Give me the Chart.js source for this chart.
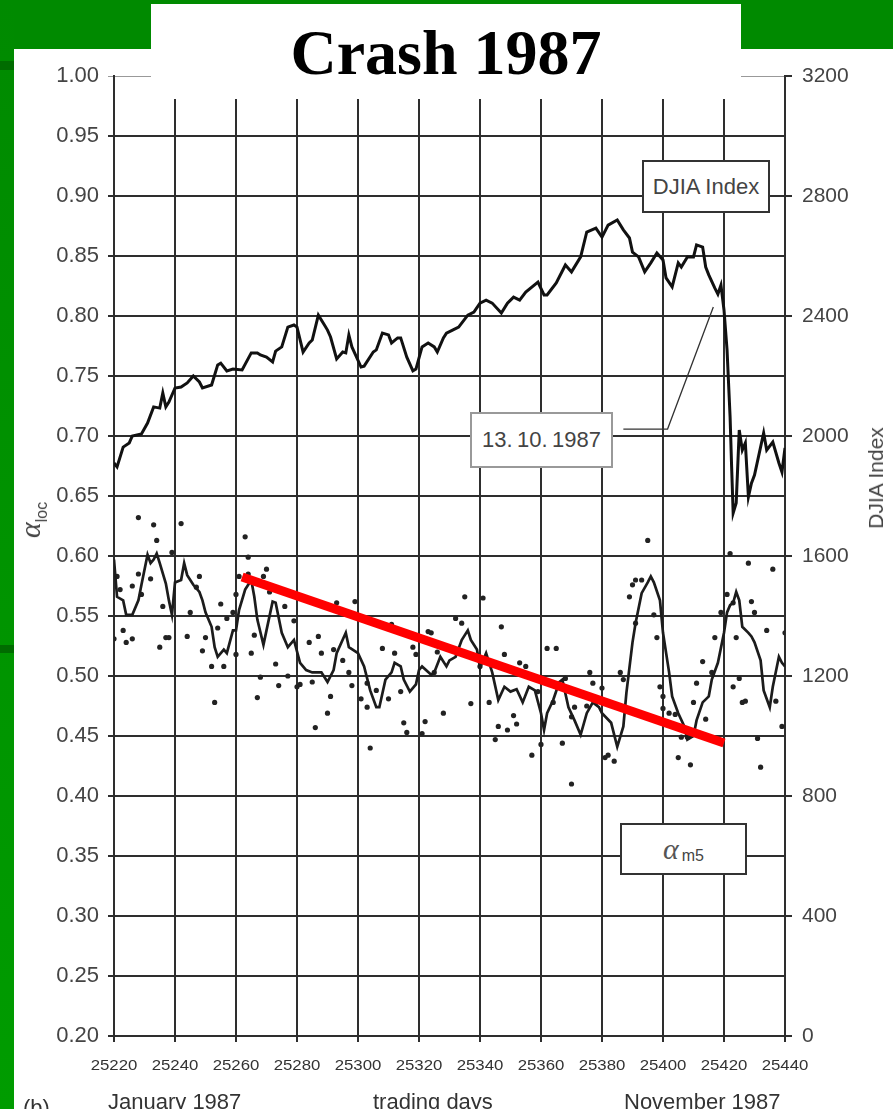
<!DOCTYPE html>
<html>
<head>
<meta charset="utf-8">
<script src="https://cdn.jsdelivr.net/npm/chart.js@4.4.1/dist/chart.umd.min.js"></script>
<style>
  html, body { margin: 0; padding: 0; background: #fff; }
  body { width: 893px; height: 1109px; position: relative; overflow: hidden;
         font-family: "Liberation Sans", Arial, sans-serif; }
  .green-top { position: absolute; left: 0; top: 0; width: 893px; height: 49px; background: #008a00; }
  .green-left { position: absolute; left: 0; top: 0; width: 14px; height: 1109px;
                background: linear-gradient(#008a00, #009c00); }
  .dark-band { position: absolute; left: 0; width: 14px; background: #006c00; }
  #wrap { position: absolute; left: 0; top: 0; width: 893px; height: 1109px; }
  .title-box { position: absolute; left: 151px; top: 4px; width: 590px; height: 95px; background: #fff; }
  .title { position: absolute; left: 151px; top: 21px; width: 590px; text-align: center;
           font-family: "Liberation Serif", "Times New Roman", serif; font-weight: bold;
           font-size: 64px; line-height: 64px; color: #000; }
  .note { position: absolute; background: #fff; border: 2px solid #333; box-sizing: border-box;
          color: #444; font-size: 22px; display: flex; align-items: center; justify-content: center; }
  .greek { font-family: "Liberation Serif", "DejaVu Serif", serif; font-style: italic; }
  .rot { position: absolute; white-space: nowrap; color: #444; transform: translate(-50%, -50%) rotate(-90deg); }
  .foot { position: absolute; font-size: 22px; line-height: 22px; color: #333; white-space: nowrap; }
</style>
</head>
<body>
<div class="green-top"></div>
<div class="green-left"></div>
<div class="dark-band" style="top:61px;height:9px"></div>
<div class="dark-band" style="top:645px;height:8px"></div>

<div id="wrap"><canvas id="chart" width="893" height="1109"></canvas></div>

<div class="title-box"></div>
<div class="title">Crash 1987</div>

<div class="note" style="left:642px;top:160px;width:128px;height:53px;">DJIA Index</div>
<div class="note" style="left:470px;top:412px;width:143px;height:56px;border-color:#999;">13.&thinsp;10.&thinsp;1987</div>
<div class="note" style="left:620px;top:823px;width:127px;height:52px;">
  <span class="greek" style="font-size:30px;color:#555">α</span><span style="font-size:16px;position:relative;top:7px;margin-left:3px">m5</span>
</div>

<div class="rot" style="left:30px;top:520px;">
  <span class="greek" style="font-size:30px">α</span><span style="font-size:16px;position:relative;top:7px">loc</span>
</div>
<div class="rot" style="left:876px;top:478px;font-size:21px;">DJIA Index</div>

<div class="foot" style="left:23px;top:1097px;">(b)</div>
<div class="foot" style="left:108px;top:1091px;">January 1987</div>
<div class="foot" style="left:373px;top:1091px;">trading days</div>
<div class="foot" style="left:624px;top:1091px;">November 1987</div>

<script>
// ═══ DATA ═══
const djiaDays = [25220,25221,25223,25225,25226,25229,25231,25233,25235,25236,25237,25238,25240,25242,25244,25246,25248,25249,25252,25254,
  25255,25257,25259,25262,25265,25267,25268,25270,25272,25273,25275,25277,25279,25280,25282,25284,25285,25287,25289,25290,
  25291,25293,25295,25296,25297,25298,25301,25302,25305,25306,25308,25310,25311,25313,25314,25316,25318,25319,25321,25323,
  25325,25326,25328,25329,25331,25333,25336,25338,25340,25342,25344,25347,25349,25351,25353,25355,25359,25361,25362,25365,
  25368,25370,25373,25375,25378,25380,25382,25385,25387,25389,25390,25392,25394,25396,25398,25400,25401,25403,25405,25406,
  25408,25410,25411,25413,25414,25415,25417,25418,25419,25420,25421,25422,25422.5,25423,25424,25425,25426,25427,25428,25429,
  25430,25433,25434,25436,25438,25439,25440];
const djiaValues = [1910,1897,1963,1977,2000,2007,2043,2097,2093,2143,2097,2113,2160,2163,2177,2200,2180,2160,2170,2237,
  2243,2217,2223,2220,2277,2277,2270,2263,2247,2283,2297,2363,2370,2363,2280,2310,2320,2403,2370,2353,
  2330,2257,2280,2277,2337,2297,2230,2233,2280,2287,2343,2337,2310,2327,2327,2263,2217,2223,2297,2310,
  2297,2280,2327,2343,2353,2363,2403,2413,2443,2453,2443,2410,2443,2463,2453,2480,2513,2470,2470,2510,
  2570,2547,2597,2680,2693,2663,2703,2720,2687,2660,2613,2597,2547,2577,2610,2587,2527,2497,2577,2563,
  2597,2597,2637,2630,2563,2537,2493,2473,2503,2420,2287,2063,1897,1743,1777,2020,1953,1977,1797,1843,
  1870,2010,1953,1980,1910,1880,1960];

const alphaDays = [25220,25221,25223,25224,25226,25228,25229,25231,25232,25233,25234,25235,25237,25238,25239,25240,25242,25243,25244,25246,
  25248,25249,25250,25252,25253,25254,25256,25257,25259,25260,25261,25263,25265,25266,25267,25269,25270,25272,25273,25275,
  25277,25279,25281,25283,25285,25288,25290,25292,25293,25296,25297,25300,25302,25304,25306,25307,25309,25311,25312,25314,
  25315,25317,25319,25320,25321,25324,25325,25327,25329,25330,25332,25334,25336,25337,25339,25340,25342,25344,25346,25348,
  25350,25352,25354,25356,25358,25360,25361,25362,25364,25366,25367,25369,25371,25373,25375,25377,25379,25380,25383,25385,
  25387,25388,25390,25391,25393,25395,25396,25397,25399,25400,25402,25403,25405,25407,25408,25410,25411,25413,25415,25416,
  25418,25420,25421,25422,25423,25424,25425,25426,25428,25429,25430,25432,25433,25435,25436,25438,25439,25440];
const alphaValues = [0.597,0.566,0.563,0.551,0.551,0.563,0.576,0.601,0.594,0.597,0.602,0.594,0.577,0.563,0.551,0.578,0.580,0.594,0.584,0.576,
  0.570,0.563,0.553,0.541,0.524,0.516,0.522,0.519,0.538,0.538,0.555,0.572,0.580,0.566,0.547,0.526,0.538,0.562,0.561,0.536,
  0.524,0.530,0.511,0.505,0.503,0.503,0.495,0.505,0.519,0.536,0.524,0.519,0.508,0.488,0.474,0.474,0.497,0.503,0.511,0.508,
  0.497,0.487,0.493,0.505,0.508,0.501,0.503,0.516,0.508,0.513,0.516,0.530,0.538,0.530,0.522,0.507,0.519,0.503,0.480,0.491,
  0.487,0.489,0.478,0.491,0.488,0.469,0.455,0.469,0.480,0.495,0.497,0.474,0.463,0.451,0.469,0.478,0.474,0.469,0.461,0.441,
  0.458,0.486,0.528,0.544,0.569,0.578,0.583,0.578,0.563,0.536,0.503,0.483,0.469,0.458,0.447,0.450,0.463,0.478,0.483,0.497,
  0.511,0.536,0.553,0.559,0.561,0.570,0.563,0.541,0.536,0.533,0.528,0.513,0.488,0.474,0.491,0.516,0.511,0.508];

const dotDays = [25220,25221,25222,25223,25224,25226,25226,25228,25228,25229,25232,25233,25234,25235,25236,25237,25238,25239,25242,25244,
  25245,25247,25248,25249,25250,25252,25253,25254,25255,25256,25257,25259,25260,25260,25261,25263,25264,25264,25265,25266,
  25267,25268,25269,25270,25271,25273,25274,25276,25277,25279,25280,25281,25284,25285,25286,25287,25288,25290,25291,25292,
  25293,25295,25297,25298,25299,25301,25303,25303,25304,25306,25308,25310,25311,25312,25314,25315,25316,25318,25319,25321,
  25322,25323,25324,25325,25326,25328,25332,25334,25335,25337,25340,25341,25343,25345,25346,25347,25348,25349,25351,25352,
  25353,25355,25357,25359,25360,25362,25364,25365,25367,25368,25370,25370,25371,25375,25376,25377,25378,25380,25381,25382,
  25384,25386,25387,25389,25390,25391,25391,25393,25395,25397,25398,25399,25400,25400,25402,25404,25405,25406,25408,25409,
  25410,25411,25413,25414,25416,25417,25419,25421,25422,25423,25423,25424,25425,25426,25427,25428,25429,25430,25431,25432,
  25434,25436,25437,25439,25440];
const dotValues = [0.531,0.583,0.572,0.538,0.528,0.575,0.531,0.632,0.585,0.568,0.581,0.626,0.613,0.524,0.558,0.532,0.532,0.603,0.627,0.533,
  0.553,0.574,0.583,0.521,0.532,0.508,0.478,0.540,0.560,0.508,0.548,0.553,0.518,0.568,0.583,0.616,0.599,0.585,0.519,0.534,
  0.482,0.499,0.583,0.589,0.570,0.510,0.492,0.558,0.500,0.546,0.491,0.493,0.528,0.495,0.457,0.533,0.519,0.469,0.483,0.522,
  0.561,0.513,0.503,0.492,0.562,0.481,0.494,0.474,0.440,0.488,0.523,0.481,0.543,0.519,0.487,0.461,0.453,0.524,0.518,0.452,
  0.462,0.537,0.536,0.503,0.520,0.469,0.548,0.544,0.566,0.477,0.508,0.565,0.478,0.447,0.458,0.541,0.518,0.455,0.467,0.460,
  0.511,0.508,0.434,0.487,0.443,0.523,0.478,0.523,0.444,0.498,0.466,0.410,0.474,0.475,0.503,0.494,0.478,0.490,0.432,0.434,
  0.429,0.503,0.497,0.566,0.576,0.544,0.580,0.580,0.613,0.551,0.532,0.491,0.483,0.473,0.469,0.468,0.432,0.449,0.449,0.426,
  0.478,0.494,0.512,0.464,0.503,0.532,0.553,0.568,0.602,0.561,0.491,0.532,0.498,0.478,0.479,0.594,0.562,0.553,0.448,0.424,
  0.538,0.589,0.479,0.458,0.536];

const trendDays = [25262, 25420];
const trendValues = [0.5825, 0.4442];

// 13.10.1987 leader line: box edge -> elbow -> DJIA curve (day, DJIA)
const leaderDays = [25387, 25401.5, 25416.5];
const leaderValues = [2023, 2023, 2430];

const pts = (xs, ys) => xs.map((x, i) => ({ x, y: ys[i] }));

// ═══ OVERLAY: x tick labels + leader line ═══
const overlay = {
  id: 'overlay',
  afterDraw(chart) {
    const ctx = chart.ctx, xs = chart.scales.x, y2 = chart.scales.y2;
    ctx.save();
    ctx.fillStyle = '#333';
    ctx.font = '14px "Liberation Sans", Arial, sans-serif';
    ctx.textAlign = 'center';
    ctx.textBaseline = 'middle';
    xs.ticks.forEach(t => {
      ctx.save();
      ctx.translate(xs.getPixelForValue(t.value), 1066);
      ctx.scale(1.2, 1);
      ctx.fillText(String(t.value), 0, 0);
      ctx.restore();
    });
    ctx.strokeStyle = '#333';
    ctx.lineWidth = 1.3;
    ctx.beginPath();
    leaderDays.forEach((d, i) => {
      const px = xs.getPixelForValue(d), py = y2.getPixelForValue(leaderValues[i]);
      i ? ctx.lineTo(px, py) : ctx.moveTo(px, py);
    });
    ctx.stroke();
    ctx.restore();
  }
};

const gridColor = '#2e2e2e';

new Chart(document.getElementById('chart'), {
  data: {
    datasets: [
      { type: 'line', data: pts(trendDays, trendValues), yAxisID: 'y',
        borderColor: '#ff0000', borderWidth: 9, borderCapStyle: 'butt', pointRadius: 0 },
      { type: 'line', data: pts(alphaDays, alphaValues), yAxisID: 'y',
        borderColor: '#1c1c1c', borderWidth: 2.7, pointRadius: 0, tension: 0 },
      { type: 'scatter', data: pts(dotDays, dotValues), yAxisID: 'y',
        backgroundColor: '#222', borderColor: '#222', pointRadius: 2.6, borderWidth: 0 },
      { type: 'line', data: pts(djiaDays, djiaValues), yAxisID: 'y2',
        borderColor: '#111', borderWidth: 3, pointRadius: 0, tension: 0 }
    ]
  },
  options: {
    responsive: false,
    animation: false,
    events: [],
    layout: { padding: { left: 14, right: 0, top: 76, bottom: 0 } },
    plugins: { legend: { display: false }, tooltip: { enabled: false } },
    scales: {
      x: {
        type: 'linear', min: 25220, max: 25440,
        ticks: { stepSize: 20, display: false },
        grid: { color: gridColor, lineWidth: 2, tickLength: 6 },
        border: { color: gridColor, width: 2 },
        afterFit: s => { s.height = 73; }
      },
      y: {
        position: 'left', min: 0.2, max: 1.0,
        ticks: { stepSize: 0.05, autoSkip: false, padding: 9, color: '#444',
                 font: { size: 22, family: '"Liberation Sans", Arial, sans-serif' },
                 callback: v => v.toFixed(2) },
        grid: { tickLength: 6,
                color: c => Math.abs(c.tick.value - 1) < 1e-6 ? '#999' : gridColor,
                lineWidth: c => Math.abs(c.tick.value - 1) < 1e-6 ? 1 : 2 },
        border: { color: gridColor, width: 2 },
        afterFit: s => { s.width = 100; }
      },
      y2: {
        position: 'right', min: 0, max: 3200,
        ticks: { stepSize: 400, autoSkip: false, padding: 10, color: '#444',
                 font: { size: 21, family: '"Liberation Sans", Arial, sans-serif' },
                 callback: v => String(v) },
        grid: { drawOnChartArea: false, tickLength: 7, color: gridColor, lineWidth: 2 },
        border: { color: gridColor, width: 2 },
        afterFit: s => { s.width = 108; }
      }
    }
  },
  plugins: [overlay]
});
</script>
</body>
</html>
